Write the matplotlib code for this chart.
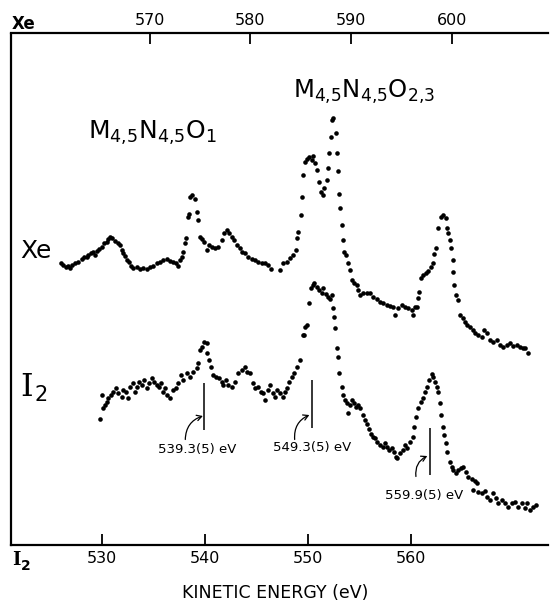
import matplotlib
matplotlib.use("Agg")
import matplotlib.pyplot as plt

plt.rcParams['mathtext.fontset'] = 'dejavusans'
plt.rcParams['font.family'] = ['DejaVu Sans']

# ---------------- data ----------------
xe_ticks = [570, 580, 590, 600]
i2_ticks = [530, 540, 550, 560]

xe_energy = [
    561.20, 561.43, 561.66, 561.92, 562.09, 562.26, 562.59, 562.92, 563.25, 563.51,
    563.75, 563.91, 564.17, 564.41, 564.57, 564.74, 564.97, 565.23, 565.50, 565.73,
    565.90, 566.06, 566.29, 566.56, 566.82, 567.05, 567.22, 567.39, 567.55, 567.72,
    567.95, 568.15, 568.38, 568.71, 569.04, 569.37, 569.70, 570.03, 570.36, 570.70,
    571.03, 571.36, 571.69, 572.02, 572.35, 572.58, 572.85, 573.01, 573.18, 573.34,
    573.51, 573.58, 573.77, 573.91, 574.01, 574.24, 574.50, 574.67, 574.83, 575.00,
    575.16, 575.43, 575.66, 575.89, 576.16, 576.49, 576.82, 577.15, 577.41, 577.65,
    577.88, 578.14, 578.41, 578.64, 578.97, 579.20, 579.47, 579.80, 580.13, 580.46,
    580.79, 581.12, 581.45, 581.78, 582.05,
    582.94, 583.27, 583.60, 583.93, 584.26, 584.53, 584.66, 584.76, 584.99, 585.09,
    585.26, 585.42, 585.59, 585.85, 586.08, 586.25, 586.42, 586.65, 586.85, 586.98,
    587.18, 587.31, 587.57, 587.74, 587.84, 587.97, 588.07, 588.24, 588.50, 588.57,
    588.73, 588.83, 588.90, 589.06, 589.23, 589.30, 589.49, 589.73, 589.89, 590.06,
    590.29, 590.55, 590.72, 590.88, 591.22, 591.55, 591.88, 592.21, 592.54, 592.87,
    593.20, 593.53, 593.86, 594.19, 594.36, 594.69, 595.02, 595.35, 595.68, 596.01,
    596.18, 596.35, 596.51, 596.68, 596.78, 596.91, 597.17, 597.44, 597.67, 597.90,
    598.17, 598.27, 598.43, 598.66, 598.89, 599.16, 599.39, 599.49, 599.66, 599.82,
    599.89, 600.09, 600.15, 600.22, 600.42, 600.65, 600.81, 601.08, 601.31, 601.54,
    601.81, 602.07, 602.30, 602.63, 602.97, 603.20, 603.46, 603.79, 604.12, 604.46,
    604.79, 605.12, 605.45, 605.78, 606.11, 606.44, 606.77, 607.04, 607.27, 607.60,
]
xe_counts = [
    281.8, 279.5, 277.2, 278.5, 276.2, 279.5, 281.2, 282.8, 285.2, 287.8,
    287.2, 289.5, 291.2, 292.8, 289.5, 293.8, 295.2, 297.8, 301.2, 302.8,
    305.2, 307.2, 306.2, 303.8, 301.2, 299.5, 294.5, 291.2, 288.5, 284.5,
    282.8, 278.5, 276.2, 277.2, 275.2, 276.8, 275.8, 277.2, 278.5, 281.2,
    282.8, 284.5, 285.2, 283.8, 282.8, 281.2, 278.5, 284.5, 287.2, 292.8,
    301.2, 306.2, 327.8, 330.5, 347.8, 349.5, 345.2, 332.8, 324.5, 307.8,
    305.2, 302.8, 294.5, 299.5, 297.8, 296.2, 297.8, 304.5, 311.2, 314.5,
    311.2, 307.8, 304.5, 299.5, 296.2, 292.8, 291.2, 287.8, 285.2, 284.5,
    282.8, 281.8, 281.2, 279.5, 275.2,
    274.5, 281.2, 282.8, 286.2, 289.5, 294.5, 306.2, 312.8, 329.5, 347.2,
    369.5, 382.8, 385.2, 387.2, 384.5, 388.5, 381.2, 374.5, 362.8, 352.8,
    349.5, 356.2, 364.5, 376.2, 391.2, 407.8, 424.5, 426.2, 411.2, 391.8,
    373.8, 350.5, 336.2, 319.5, 304.5, 292.8, 289.5, 281.2, 274.5, 264.5,
    261.2, 259.5, 254.5, 249.5, 251.2, 251.8, 251.2, 247.8, 245.2, 242.8,
    241.2, 239.5, 238.5, 237.8, 229.5, 236.2, 239.5, 237.8, 236.2, 234.5,
    229.5, 237.8, 237.8, 246.2, 252.8, 266.2, 269.5, 271.8, 273.8, 277.8,
    281.2, 290.5, 296.2, 316.2, 327.8, 329.5, 326.2, 316.2, 311.2, 304.5,
    296.2, 284.5, 272.8, 259.5, 249.5, 244.5, 229.5, 226.2, 222.8, 219.5,
    217.8, 214.5, 211.2, 209.5, 207.2, 214.5, 211.2, 204.5, 202.8, 204.5,
    199.5, 197.8, 199.5, 201.2, 198.5, 199.5, 197.8, 196.2, 196.2, 191.2,
]

i2_energy = [
    529.84, 530.00, 530.16, 530.32, 530.49, 530.65, 530.87, 531.13, 531.39, 531.62,
    531.94, 532.10, 532.36, 532.58, 532.75, 533.00, 533.23, 533.39, 533.65, 533.88,
    534.10, 534.36, 534.62, 534.85, 535.07, 535.33, 535.59, 535.72, 535.91, 536.14,
    536.30, 536.62, 536.88, 537.20, 537.43, 537.66, 537.91, 538.24, 538.56, 538.88,
    539.21, 539.37, 539.53, 539.69, 539.92, 540.18, 540.24, 540.43, 540.56, 540.76,
    541.08, 541.40, 541.63, 541.79, 542.05, 542.27, 542.60, 542.92, 543.24, 543.57,
    543.89, 544.05, 544.37, 544.63, 544.86, 545.18, 545.41, 545.67, 545.83, 546.15,
    546.31, 546.57, 546.80, 547.02, 547.28, 547.54, 547.77, 547.99, 548.19, 548.41,
    548.64, 548.90, 549.22, 549.54,
    549.61, 549.70, 549.87, 550.12, 550.28, 550.45, 550.58, 550.83, 551.09, 551.32,
    551.48, 551.74, 551.96, 552.13, 552.29, 552.38, 552.51, 552.61, 552.84, 552.93,
    553.03, 553.26, 553.42, 553.58, 553.81, 553.90, 554.06, 554.23, 554.45, 554.65,
    554.87, 555.03, 555.36, 555.52, 555.68, 555.94, 556.07, 556.26, 556.49, 556.71,
    556.97, 557.23, 557.46, 557.68, 557.88, 558.10, 558.33, 558.52, 558.65, 558.91,
    559.17, 559.39, 559.62, 559.88, 560.14, 560.27, 560.46, 560.69, 560.91, 561.11,
    561.33, 561.49, 561.75, 561.98, 562.14, 562.30, 562.46, 562.62, 562.79, 562.85,
    563.04, 563.17, 563.37, 563.50, 563.75, 563.92, 564.08, 564.34, 564.56, 564.79,
    565.05, 565.30, 565.53, 565.85, 566.02, 566.18, 566.34, 566.50, 566.82, 567.15,
    567.37, 567.63, 567.95, 568.21, 568.44, 568.76, 569.08, 569.41, 569.73, 570.05,
    570.38, 570.70, 571.02, 571.25, 571.51, 571.83, 572.09,
]
i2_counts = [
    125.2, 149.5, 136.2, 139.5, 142.8, 146.2, 149.5, 152.8, 156.2, 151.2,
    147.8, 154.5, 152.8, 146.2, 157.8, 161.2, 152.8, 157.8, 162.8, 159.5,
    164.5, 156.2, 161.2, 166.2, 162.8, 159.5, 157.8, 161.2, 152.8, 156.2,
    149.5, 146.2, 154.5, 156.2, 161.2, 169.5, 164.5, 171.2, 167.8, 172.8,
    176.2, 181.2, 194.5, 197.8, 202.8, 201.2, 191.2, 184.5, 177.8, 169.5,
    167.8, 166.2, 162.8, 159.5, 164.5, 159.5, 157.8, 162.8, 171.2, 174.5,
    177.8, 172.8, 171.2, 161.2, 156.2, 157.8, 152.8, 151.2, 144.5, 154.5,
    159.5, 151.2, 147.8, 154.5, 151.2, 147.8, 152.8, 156.2, 162.8, 167.8,
    171.2, 177.8, 184.5, 209.5,
    209.5, 217.8, 219.5, 241.2, 256.2, 259.5, 261.8, 257.8, 254.5, 251.2,
    256.2, 250.5, 247.8, 245.2, 249.5, 236.2, 227.8, 216.2, 196.2, 187.2,
    171.2, 157.8, 149.5, 144.5, 141.2, 131.2, 139.5, 144.5, 141.8, 137.8,
    139.5, 136.2, 129.5, 124.5, 120.5, 115.2, 110.5, 107.8, 106.2, 102.8,
    99.5, 97.8, 101.2, 97.8, 94.5, 96.2, 92.8, 87.8, 86.2, 91.2,
    94.5, 99.5, 96.2, 102.8, 107.8, 117.8, 127.8, 136.2, 142.8, 146.2,
    152.8, 157.8, 164.5, 170.5, 167.2, 162.8, 157.8, 152.8, 141.2, 129.5,
    117.8, 109.5, 101.2, 92.8, 82.8, 77.8, 74.5, 71.2, 74.5, 76.2,
    77.8, 72.8, 67.8, 65.2, 54.5, 63.8, 61.2, 52.8, 51.2, 53.8,
    47.8, 44.5, 51.2, 46.2, 41.2, 44.5, 41.2, 37.2, 41.2, 42.8,
    37.8, 41.2, 36.2, 41.2, 34.5, 37.2, 39.5,
]

peak_labels = ['539.3(5) eV', '549.3(5) eV', '559.9(5) eV']
marker_energy = [539.9, 550.38, 561.78]
marker_low = [114.5, 116.5, 69.5]
marker_high = [161.5, 164.5, 116.5]

# ---------------- figure ----------------
W, H = 550, 611
fig = plt.figure(figsize=(5.5, 6.11), dpi=100)
fig.patch.set_facecolor('white')

def fx(px):
    return px / W

def fy(py):
    return 1 - py / H

ax = fig.add_axes([fx(11), fy(544.5), (548 - 11) / W, (544.5 - 33.5) / H])
ax.set_xlim(521.21, 573.25)
ax.set_ylim(0, 511)
ax2 = ax.twiny()
ax2.set_xlim(556.23, 609.55)

for s in ['top', 'right']:
    ax.spines[s].set_visible(False)
for s in ['left', 'bottom']:
    ax.spines[s].set_linewidth(1.6)
for s in ['bottom', 'left', 'right']:
    ax2.spines[s].set_visible(False)
ax2.spines['top'].set_linewidth(1.6)

ax.set_yticks([])
ax.set_xticks(i2_ticks)
ax.set_xticklabels([str(t) for t in i2_ticks])
ax.tick_params(axis='x', direction='in', length=8, width=1.3, pad=5, labelsize=11.5)
ax2.set_xticks(xe_ticks)
ax2.set_xticklabels([str(t) for t in xe_ticks])
ax2.tick_params(axis='x', direction='in', length=8, width=1.3, pad=4, labelsize=11.5)

# spectra
ax2.plot(xe_energy, xe_counts, 'o', color='black', ms=3.3, mew=0)
ax.plot(i2_energy, i2_counts, 'o', color='black', ms=3.3, mew=0)

# peak markers + labels
label_pos = [(539.25, 94.5), (550.38, 96.5), (561.23, 49.5)]
arrow_tail = [(538.10, 105.0), (548.70, 105.0), (560.45, 68.0)]
arrow_head = [(539.80, 128.5), (550.12, 129.5), (561.55, 88.5)]
for e, lo, hi in zip(marker_energy, marker_low, marker_high):
    ax.vlines(e, lo, hi, color='black', lw=1.1)
for lab, pos, t, h in zip(peak_labels, label_pos, arrow_tail, arrow_head):
    ax.text(pos[0], pos[1], lab, ha='center', va='center', fontsize=9.5)
    ax.annotate('', xy=h, xytext=t,
                arrowprops=dict(arrowstyle='->,head_length=0.35,head_width=0.2',
                                connectionstyle='arc3,rad=-0.35', lw=0.9, color='black',
                                shrinkA=0, shrinkB=0))

# transition labels
fig.text(fx(88), fy(139), r'M$_{4{,}5}$N$_{4{,}5}$O$_{1}$', fontsize=18, ha='left', va='baseline')
fig.text(fx(293), fy(98), r'M$_{4{,}5}$N$_{4{,}5}$O$_{2{,}3}$', fontsize=17.5, ha='left', va='baseline')

# element labels
fig.text(fx(20), fy(258), 'Xe', fontsize=18, ha='left', va='baseline')
fig.text(fx(20), fy(396), 'I', fontsize=23, ha='left', va='baseline', family='DejaVu Serif')
fig.text(fx(35), fy(401), '2', fontsize=15, ha='left', va='baseline')

# axis scale labels
fig.text(fx(12), fy(565), 'I', fontsize=13, fontweight='bold', ha='left', va='baseline', family='DejaVu Serif')
fig.text(fx(21), fy(570), '2', fontsize=10, fontweight='bold', ha='left', va='baseline')
fig.text(fx(12), fy(29), 'Xe', fontsize=12, fontweight='bold', ha='left', va='baseline')

fig.text(fx(275), fy(593), 'KINETIC ENERGY (eV)', fontsize=12.5, ha='center', va='center')

fig.savefig('out.png', dpi=100, facecolor='white')
